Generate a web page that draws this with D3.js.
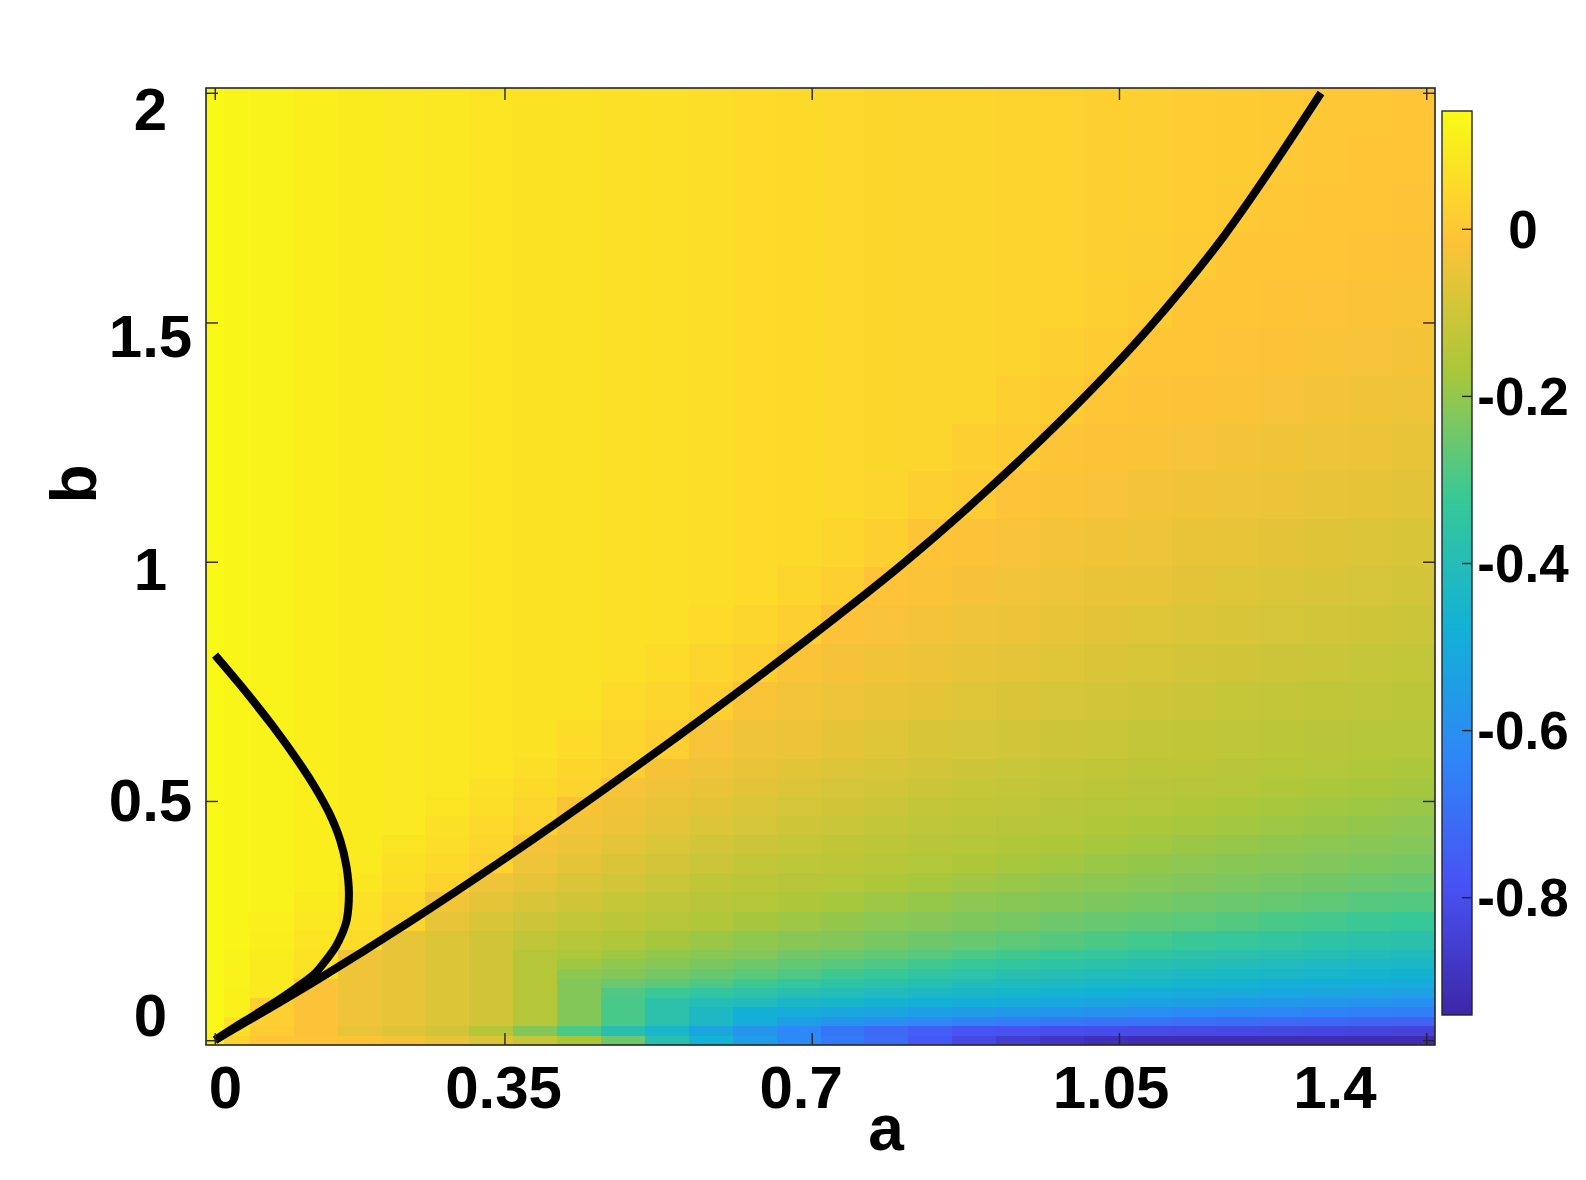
<!DOCTYPE html>
<html><head><meta charset="utf-8">
<script src="https://cdn.jsdelivr.net/npm/d3@7"></script>
<style>
html,body{margin:0;padding:0;background:#fff;}
svg{display:block;}
text{font-family:"Liberation Sans",Arial,Helvetica,sans-serif;font-weight:bold;fill:#000;}
</style>
</head><body>
<svg id="chart" width="1586" height="1180"></svg>
<script>
// ---------------- DATA ----------------
// heat-map cell edges (a horizontally, b vertically)
const aEdges = [0.01,0.03,0.06,0.11,0.16,0.21,0.26,0.31,0.36,0.41,0.46,0.51,0.56,0.61,0.66,0.71,0.76,0.81,0.86,0.91,0.96,1.01,1.06,1.11,1.16,1.21,1.26,1.31,1.36,1.41];
const bEdges = [-0.01,0.01,0.03,0.05,0.07,0.09,0.11,0.13,0.15,0.17,0.19,0.23,0.27,0.31,0.35,0.39,0.43,0.47,0.51,0.55,0.59,0.67,0.75,0.83,0.91,0.99,1.09,1.19,1.29,1.39,1.49,1.59,1.69,1.79,1.89,1.99];
// values, one row per b band (bottom to top), one entry per a band
const heatValues = [
[0.11,0.03,-0.005,-0.01,-0.015,-0.03,-0.05,-0.08,-0.12,-0.17,-0.25,-0.38,-0.47,-0.55,-0.62,-0.67,-0.71,-0.77,-0.82,-0.86,-0.89,-0.91,-0.92,-0.92,-0.92,-0.92,-0.92,-0.92,-0.92],
[0.126,0.06,0.01,-0.02,-0.05,-0.07,-0.1,-0.15,-0.22,-0.3,-0.38,-0.45,-0.52,-0.58,-0.63,-0.68,-0.72,-0.75,-0.78,-0.79,-0.80,-0.805,-0.81,-0.817,-0.822,-0.826,-0.83,-0.835,-0.84],
[0.126,0.07,0.02,-0.015,-0.04,-0.055,-0.075,-0.1,-0.15,-0.22,-0.3,-0.37,-0.43,-0.49,-0.54,-0.58,-0.61,-0.63,-0.65,-0.66,-0.672,-0.684,-0.694,-0.703,-0.71,-0.717,-0.722,-0.73,-0.738],
[0.127,0.111,0.02,-0.015,-0.04,-0.055,-0.075,-0.1,-0.15,-0.22,-0.3,-0.37,-0.43,-0.48,-0.496,-0.51,-0.526,-0.54,-0.555,-0.57,-0.584,-0.596,-0.607,-0.618,-0.627,-0.636,-0.644,-0.651,-0.658],
[0.128,0.112,0.02,-0.015,-0.04,-0.055,-0.075,-0.1,-0.15,-0.22,-0.3,-0.37,-0.40,-0.42,-0.437,-0.45,-0.465,-0.48,-0.49,-0.50,-0.513,-0.525,-0.535,-0.544,-0.557,-0.568,-0.578,-0.588,-0.597],
[0.129,0.114,0.09,-0.015,-0.04,-0.055,-0.075,-0.1,-0.15,-0.22,-0.29,-0.32,-0.344,-0.36,-0.385,-0.40,-0.42,-0.432,-0.443,-0.455,-0.467,-0.477,-0.487,-0.495,-0.503,-0.51,-0.52,-0.53,-0.538],
[0.129,0.115,0.093,-0.015,-0.04,-0.055,-0.075,-0.1,-0.15,-0.22,-0.253,-0.272,-0.292,-0.315,-0.336,-0.356,-0.373,-0.39,-0.405,-0.42,-0.428,-0.437,-0.447,-0.458,-0.467,-0.476,-0.484,-0.49,-0.498],
[0.13,0.117,0.096,0.067,-0.04,-0.055,-0.075,-0.1,-0.15,-0.21,-0.22,-0.24,-0.258,-0.275,-0.292,-0.313,-0.33,-0.35,-0.366,-0.38,-0.393,-0.405,-0.42,-0.428,-0.435,-0.442,-0.45,-0.46,-0.468],
[0.131,0.118,0.098,0.071,-0.04,-0.055,-0.075,-0.1,-0.15,-0.185,-0.205,-0.218,-0.234,-0.25,-0.265,-0.28,-0.294,-0.312,-0.327,-0.343,-0.357,-0.372,-0.383,-0.394,-0.405,-0.415,-0.425,-0.432,-0.438],
[0.132,0.12,0.101,0.075,-0.04,-0.055,-0.075,-0.1,-0.15,-0.166,-0.185,-0.202,-0.214,-0.222,-0.243,-0.255,-0.265,-0.28,-0.294,-0.31,-0.324,-0.337,-0.35,-0.365,-0.376,-0.385,-0.394,-0.404,-0.418],
[0.133,0.122,0.105,0.081,0.053,-0.054,-0.075,-0.1,-0.13,-0.145,-0.159,-0.175,-0.19,-0.205,-0.215,-0.222,-0.237,-0.25,-0.26,-0.27,-0.282,-0.295,-0.307,-0.32,-0.332,-0.345,-0.357,-0.368,-0.377],
[0.133,0.125,0.111,0.089,0.063,0.033,-0.057,-0.083,-0.104,-0.124,-0.137,-0.15,-0.16,-0.175,-0.187,-0.2,-0.211,-0.218,-0.228,-0.238,-0.25,-0.258,-0.266,-0.275,-0.285,-0.297,-0.307,-0.318,-0.327],
[0.133,0.125,0.115,0.097,0.073,0.045,-0.035,-0.058,-0.082,-0.1,-0.117,-0.131,-0.141,-0.152,-0.162,-0.174,-0.185,-0.195,-0.207,-0.214,-0.22,-0.228,-0.237,-0.246,-0.253,-0.26,-0.27,-0.28,-0.287],
[0.133,0.125,0.115,0.105,0.083,0.057,0.034,-0.04,-0.06,-0.081,-0.098,-0.112,-0.127,-0.136,-0.145,-0.154,-0.163,-0.174,-0.184,-0.192,-0.203,-0.21,-0.216,-0.222,-0.23,-0.238,-0.245,-0.253,-0.26],
[0.133,0.125,0.115,0.105,0.093,0.069,0.046,0.025,-0.043,-0.061,-0.08,-0.095,-0.108,-0.122,-0.132,-0.139,-0.148,-0.156,-0.164,-0.174,-0.18,-0.19,-0.2,-0.207,-0.214,-0.218,-0.224,-0.23,-0.238],
[0.133,0.125,0.115,0.105,0.097,0.081,0.058,0.036,-0.029,-0.046,-0.062,-0.079,-0.093,-0.105,-0.118,-0.128,-0.134,-0.143,-0.15,-0.157,-0.165,-0.173,-0.18,-0.188,-0.195,-0.205,-0.211,-0.215,-0.219],
[0.133,0.125,0.115,0.105,0.097,0.09,0.07,0.048,0.028,-0.033,-0.048,-0.062,-0.078,-0.091,-0.102,-0.114,-0.124,-0.132,-0.138,-0.145,-0.152,-0.158,-0.166,-0.173,-0.18,-0.187,-0.193,-0.2,-0.208],
[0.133,0.125,0.115,0.105,0.097,0.09,0.081,0.059,0.038,-0.022,-0.037,-0.05,-0.064,-0.078,-0.09,-0.1,-0.11,-0.121,-0.128,-0.133,-0.14,-0.147,-0.154,-0.16,-0.166,-0.173,-0.18,-0.186,-0.191],
[0.133,0.125,0.115,0.105,0.097,0.09,0.085,0.07,0.049,0.03,-0.026,-0.039,-0.052,-0.064,-0.077,-0.089,-0.097,-0.107,-0.118,-0.124,-0.131,-0.137,-0.142,-0.148,-0.154,-0.16,-0.166,-0.172,-0.178],
[0.133,0.125,0.115,0.105,0.097,0.09,0.085,0.08,0.059,0.04,0.022,-0.029,-0.041,-0.053,-0.065,-0.077,-0.088,-0.096,-0.105,-0.115,-0.123,-0.128,-0.134,-0.139,-0.145,-0.151,-0.156,-0.16,-0.167],
[0.133,0.125,0.115,0.105,0.097,0.09,0.085,0.08,0.075,0.055,0.037,0.02,-0.027,-0.039,-0.049,-0.06,-0.072,-0.082,-0.09,-0.098,-0.106,-0.115,-0.122,-0.128,-0.133,-0.138,-0.143,-0.148,-0.153],
[0.133,0.125,0.115,0.105,0.097,0.09,0.085,0.08,0.075,0.071,0.055,0.037,0.022,-0.023,-0.033,-0.043,-0.052,-0.061,-0.072,-0.081,-0.089,-0.096,-0.102,-0.11,-0.117,-0.124,-0.128,-0.132,-0.137],
[0.133,0.125,0.115,0.105,0.097,0.09,0.085,0.08,0.075,0.071,0.067,0.055,0.038,0.022,-0.019,-0.028,-0.037,-0.045,-0.054,-0.062,-0.072,-0.08,-0.087,-0.094,-0.1,-0.106,-0.113,-0.12,-0.125],
[0.133,0.125,0.115,0.105,0.097,0.09,0.085,0.08,0.075,0.071,0.067,0.063,0.055,0.038,0.023,-0.016,-0.024,-0.032,-0.04,-0.048,-0.056,-0.063,-0.072,-0.079,-0.085,-0.092,-0.098,-0.103,-0.109],
[0.133,0.125,0.115,0.105,0.097,0.09,0.085,0.08,0.075,0.071,0.067,0.063,0.059,0.053,0.037,0.022,-0.013,-0.021,-0.028,-0.036,-0.043,-0.05,-0.057,-0.064,-0.072,-0.079,-0.085,-0.09,-0.096],
[0.133,0.125,0.115,0.105,0.097,0.09,0.085,0.08,0.075,0.071,0.067,0.063,0.059,0.055,0.051,0.037,0.022,-0.011,-0.017,-0.024,-0.03,-0.037,-0.044,-0.05,-0.057,-0.064,-0.071,-0.076,-0.082],
[0.133,0.125,0.115,0.105,0.097,0.09,0.085,0.08,0.075,0.071,0.067,0.063,0.059,0.055,0.051,0.047,0.037,0.023,0.011,-0.013,-0.019,-0.025,-0.031,-0.037,-0.043,-0.049,-0.055,-0.06,-0.067],
[0.133,0.125,0.115,0.105,0.097,0.09,0.085,0.08,0.075,0.071,0.067,0.063,0.059,0.055,0.051,0.047,0.043,0.037,0.023,0.011,-0.01,-0.015,-0.02,-0.026,-0.032,-0.037,-0.043,-0.048,-0.054],
[0.133,0.125,0.115,0.105,0.097,0.09,0.085,0.08,0.075,0.071,0.067,0.063,0.059,0.055,0.051,0.047,0.043,0.039,0.035,0.022,0.011,-0.008,-0.012,-0.016,-0.021,-0.027,-0.032,-0.037,-0.042],
[0.133,0.125,0.115,0.105,0.097,0.09,0.085,0.08,0.075,0.071,0.067,0.063,0.059,0.055,0.051,0.047,0.043,0.039,0.035,0.031,0.021,0.011,-0.006,-0.009,-0.013,-0.018,-0.022,-0.027,-0.032],
[0.133,0.125,0.115,0.105,0.097,0.09,0.085,0.08,0.075,0.071,0.067,0.063,0.059,0.055,0.051,0.047,0.043,0.039,0.035,0.031,0.027,0.019,0.01,-0.005,-0.007,-0.01,-0.014,-0.019,-0.023],
[0.133,0.125,0.115,0.105,0.097,0.09,0.085,0.08,0.075,0.071,0.067,0.063,0.059,0.055,0.051,0.047,0.043,0.039,0.035,0.031,0.027,0.023,0.017,0.008,-0.004,-0.006,-0.009,-0.012,-0.016],
[0.133,0.125,0.115,0.105,0.097,0.09,0.085,0.08,0.075,0.071,0.067,0.063,0.059,0.055,0.051,0.047,0.043,0.039,0.035,0.031,0.027,0.023,0.019,0.013,0.006,-0.003,-0.005,-0.007,-0.01],
[0.133,0.125,0.115,0.105,0.097,0.09,0.085,0.08,0.075,0.071,0.067,0.063,0.059,0.055,0.051,0.047,0.043,0.039,0.035,0.031,0.027,0.023,0.019,0.015,0.01,0.003,-0.003,-0.004,-0.006],
[0.133,0.125,0.115,0.105,0.097,0.09,0.085,0.08,0.075,0.071,0.067,0.063,0.059,0.055,0.051,0.047,0.043,0.039,0.035,0.031,0.027,0.023,0.019,0.015,0.011,0.005,-0.003,-0.003,-0.004]
];
// black curves
const bigCurveA = [0.0203,0.1364,0.2424,0.3514,0.4667,0.5818,0.6971,0.801,0.9,1.0,1.085,1.17,1.2801];
const bigCurveB = [0.0004,0.1258,0.2477,0.3807,0.5283,0.6814,0.8405,0.9912,1.1496,1.3246,1.4904,1.6817,1.9795];
const smallCurveA = [0.0203,0.0491,0.0866,0.1192,0.1338,0.1505,0.1628,0.17,0.1728,0.1703,0.1653,0.1577,0.1467,0.1342,0.1171,0.1,0.0772,0.0487,0.0203];
const smallCurveB = [0.805,0.7423,0.6552,0.5716,0.5298,0.4742,0.4184,0.3626,0.307,0.2512,0.2234,0.1954,0.1673,0.1398,0.1154,0.0934,0.0663,0.0339,0.0004];
// ticks
const xTickValues = [0.02,0.35,0.7,1.05,1.4];
const xTickLabelPos = [0.032,0.349,0.688,1.041,1.296];
const xTickLabels = ["0","0.35","0.7","1.05","1.4"];
const yTickValues = [0,0.5,1,1.5,1.98];
const yTickLabelPos = [0.053,0.504,0.987,1.472,1.948];
const yTickLabels = ["0","0.5","1","1.5","2"];
const cbTickValues = [0,-0.2,-0.4,-0.6,-0.8];
const cbTickLabels = ["0","-0.2","-0.4","-0.6","-0.8"];
const colorLimits = [-0.941,0.141];
const xLabel = "a", yLabel = "b";
// parula colormap stops
const parulaStops = ["#3e26a8","#4852f4","#2e87f7","#12b1d6","#37c897","#abc739","#fec338","#f9fb15"];

// ---------------- LAYOUT ----------------
const L = 206, R = 1435, T = 88, B = 1045;
const CBX = 1442, CBW = 30, CBT = 111, CBB = 1015;
const ink = "#262626";

const svg = d3.select("#chart");
svg.append("rect").attr("width",1586).attr("height",1180).attr("fill","#fff");

const x = d3.scaleLinear().domain([aEdges[0], aEdges[aEdges.length-1]]).range([L,R]);
const y = d3.scaleLinear().domain([bEdges[0], bEdges[bEdges.length-1]]).range([B,T]);
const stopDomain = parulaStops.map((_,i)=>colorLimits[0] + (colorLimits[1]-colorLimits[0])*i/(parulaStops.length-1));
const color = d3.scaleLinear().domain(stopDomain).range(parulaStops).interpolate(d3.interpolateRgb).clamp(true);

const defs = svg.append("defs");
defs.append("clipPath").attr("id","plotclip").append("rect")
  .attr("x",L).attr("y",T).attr("width",R-L).attr("height",B-T);

// heat map
const cells = [];
heatValues.forEach((row,j)=>row.forEach((v,i)=>cells.push({i,j,v})));
svg.append("g").attr("clip-path","url(#plotclip)")
  .selectAll("rect").data(cells).join("rect")
  .attr("x",d=>x(aEdges[d.i]))
  .attr("width",d=>x(aEdges[d.i+1])-x(aEdges[d.i])+0.6)
  .attr("y",d=>y(bEdges[d.j+1]))
  .attr("height",d=>y(bEdges[d.j])-y(bEdges[d.j+1])+0.6)
  .attr("fill",d=>color(d.v))
  .attr("shape-rendering","crispEdges");

// curves
const line = d3.line().x(d=>x(d[0])).y(d=>y(d[1])).curve(d3.curveCatmullRom.alpha(0.5));
const curves = [d3.zip(bigCurveA,bigCurveB), d3.zip(smallCurveA,smallCurveB)];
svg.append("g").attr("clip-path","url(#plotclip)")
  .selectAll("path").data(curves).join("path")
  .attr("d",line).attr("fill","none").attr("stroke","#000")
  .attr("stroke-width",8).attr("stroke-linecap","butt").attr("stroke-linejoin","round");

// axes ticks (inside)
function styleAxis(g){ g.select(".domain").remove(); g.selectAll("line").attr("stroke",ink).attr("stroke-width",1.4); }
svg.append("g").attr("transform",`translate(0,${B})`)
  .call(d3.axisBottom(x).tickValues(xTickValues).tickSize(-12).tickFormat("")).call(styleAxis);
svg.append("g").attr("transform",`translate(0,${T})`)
  .call(d3.axisTop(x).tickValues(xTickValues).tickSize(-12).tickFormat("")).call(styleAxis);
svg.append("g").attr("transform",`translate(${L},0)`)
  .call(d3.axisLeft(y).tickValues(yTickValues).tickSize(-12).tickFormat("")).call(styleAxis);
svg.append("g").attr("transform",`translate(${R},0)`)
  .call(d3.axisRight(y).tickValues(yTickValues).tickSize(-12).tickFormat("")).call(styleAxis);

svg.append("rect").attr("x",L).attr("y",T).attr("width",R-L).attr("height",B-T)
  .attr("fill","none").attr("stroke",ink).attr("stroke-width",1.6);

// tick labels
svg.append("g").selectAll("text").data(xTickLabels).join("text")
  .attr("x",(d,i)=>x(xTickLabelPos[i])).attr("y",1108)
  .attr("text-anchor","middle").attr("font-size",60).text(d=>d);
svg.append("g").selectAll("text").data(yTickLabels).join("text")
  .attr("x",150.5).attr("y",(d,i)=>y(yTickLabelPos[i])).attr("dy","0.36em")
  .attr("text-anchor","middle").attr("font-size",60).text(d=>d);

// axis labels
svg.append("text").attr("x",886).attr("y",1150).attr("text-anchor","middle")
  .attr("font-size",64).text(xLabel);
svg.append("text").attr("transform","translate(96,484) rotate(-90)").attr("text-anchor","middle")
  .attr("font-size",64).text(yLabel);

// colorbar
const cb = d3.scaleLinear().domain(colorLimits).range([CBB,CBT]);
const grad = defs.append("linearGradient").attr("id","cbgrad")
  .attr("x1",0).attr("y1",1).attr("x2",0).attr("y2",0);
grad.selectAll("stop").data(parulaStops).join("stop")
  .attr("offset",(d,i)=>i/(parulaStops.length-1)).attr("stop-color",d=>d);
svg.append("rect").attr("x",CBX).attr("y",cb(colorLimits[1])).attr("width",CBW)
  .attr("height",cb(colorLimits[0])-cb(colorLimits[1]))
  .attr("fill","url(#cbgrad)").attr("stroke",ink).attr("stroke-width",1.4);
svg.append("g").attr("transform",`translate(${CBX+CBW},0)`)
  .call(d3.axisLeft(cb).tickValues(cbTickValues).tickSize(10).tickFormat("")).call(styleAxis);
svg.append("g").selectAll("text").data(cbTickLabels).join("text")
  .attr("x",1523).attr("y",(d,i)=>cb(cbTickValues[i])).attr("dy","0.36em")
  .attr("text-anchor","middle").attr("font-size",53).text(d=>d);
</script>
</body></html>
